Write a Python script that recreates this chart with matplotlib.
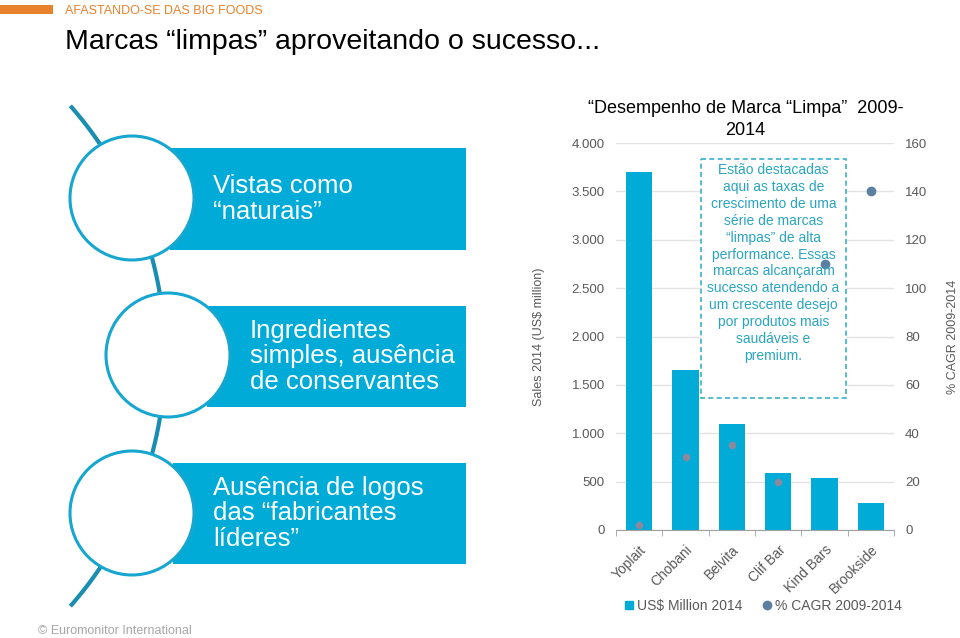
import numpy as np
import matplotlib.pyplot as plt
from matplotlib import patches
from matplotlib.lines import Line2D

plt.rcParams['font.family'] = ['Liberation Sans', 'DejaVu Sans']

# dados do grafico
marcas = ["Yoplait", "Chobani", "Belvita", "Clif Bar", "Kind Bars", "Brookside"]
vendas_2014 = [3700, 1650, 1100, 590, 540, 280]
cagr = [2, 30, 35, 20, 110, 140]

# textos do diagrama
itens = ["Vistas como\n“naturais”",
         "Ingredientes\nsimples, ausência\nde conservantes",
         "Ausência de logos\ndas “fabricantes\nlíderes”"]

ciano = "#00abd8"
azul_ponto = "#5b7fa0"
cinza = "#595959"

fig = plt.figure(figsize=(9.6, 6.38), dpi=100)

# camada de desenho em pixels (diagrama esquerdo e cabecalho)
bg = fig.add_axes([0, 0, 1, 1])
bg.set_xlim(0, 960)
bg.set_ylim(638, 0)
bg.axis("off")

bg.add_patch(patches.Rectangle((0, 5), 53, 9, color="#e8812c", lw=0))
bg.text(65, 11, "AFASTANDO-SE DAS BIG FOODS", color="#e8812c", fontsize=9.0, va="center")
bg.text(65, 42, "Marcas “limpas” aproveitando o sucesso...", color="black", fontsize=20.5, va="center")
bg.text(38, 631, "© Euromonitor International", color="#a6a6a6", fontsize=9, va="center")

# arco de ligacao
ang = np.linspace(np.arctan2(108 - 356, 71 + 213), np.arctan2(604 - 356, 71 + 213), 200)
bg.plot(-213 + 378 * np.cos(ang), 356 + 378 * np.sin(ang), color="#1b8db0", lw=3, zorder=1)

caixas = [(170, 148, 102), (207, 306, 101), (173, 463, 101)]
circulos = [(132, 198), (168, 355), (132, 513)]
texto_x = [213, 250, 213]
for (x0, y0, h), (cx, cy), tx, txt in zip(caixas, circulos, texto_x, itens):
    bg.add_patch(patches.Rectangle((x0, y0), 466 - x0, h, color=ciano, lw=0, zorder=2))
    bg.add_patch(patches.Circle((cx, cy), 62, facecolor="white", edgecolor="#17a6cf", lw=2.2, zorder=3))
    bg.text(tx, y0 + h / 2, txt, color="white", fontsize=18.5, va="center", ha="left",
            linespacing=1.08, zorder=4)

# grafico de barras
ax = fig.add_axes([616 / 960, 1 - 530 / 638, 278 / 960, 387 / 638])
x = np.arange(len(marcas))
ax.bar(x, vendas_2014, width=0.57, color=ciano, zorder=2)
ax.set_xlim(-0.5, len(marcas) - 0.5)
ax.set_ylim(0, 4000)
ax.set_yticks(np.arange(0, 4001, 500))
ax.set_yticklabels([f"{v:,}".replace(",", ".") for v in range(0, 4001, 500)])
ax.yaxis.grid(True, color="#e3e3e3", lw=1, zorder=0)
ax.set_axisbelow(True)
for s in ["top", "left", "right"]:
    ax.spines[s].set_visible(False)
ax.spines["bottom"].set_color("#a0a0a0")
ax.tick_params(axis="y", length=0, labelsize=9.5, labelcolor=cinza, pad=8)
ax.set_xticks(np.arange(len(marcas) + 1) - 0.5, minor=True)
ax.tick_params(axis="x", which="minor", length=4, color="#a0a0a0")
ax.set_xticks(x)
ax.set_xticklabels(marcas, rotation=45, ha="right", rotation_mode="anchor", fontsize=10, color=cinza)
ax.tick_params(axis="x", which="major", length=0, pad=9)
ax.set_ylabel("Sales 2014 (US$ million)", fontsize=9, color=cinza)
ax.yaxis.set_label_coords(-0.255, 0.5)

ax2 = ax.twinx()
ax2.set_ylim(0, 160)
ax2.set_yticks(np.arange(0, 161, 20))
for s in ax2.spines.values():
    s.set_visible(False)
ax2.tick_params(axis="y", length=0, labelsize=9.5, labelcolor=cinza, pad=8)
ax2.set_ylabel("% CAGR 2009-2014", fontsize=9, color=cinza, labelpad=14)

for xi, c, v in zip(x, cagr, vendas_2014):
    sobre_barra = c / 160 * 4000 < v
    ax2.plot(xi, c, "o", ms=5.5 if sobre_barra else 7,
             color="#8a8a9c" if sobre_barra else azul_ponto, mec="none", zorder=3)

ax.set_title("“Desempenho de Marca “Limpa”  2009-\n2014", fontsize=13, pad=6, linespacing=1.35,
             x=0.466)

# caixa de texto tracejada (camada superior)
top = fig.add_axes([0, 0, 1, 1])
top.set_xlim(0, 960)
top.set_ylim(638, 0)
top.axis("off")
top.add_patch(patches.Rectangle((701, 159), 145, 239, facecolor="white", edgecolor="#3ab0c8",
                                lw=1.2, ls=(0, (3, 2))))
top.text(773.5, 263, "Estão destacadas\naqui as taxas de\ncrescimento de uma\nsérie de marcas\n"
         "“limpas” de alta\nperformance. Essas\nmarcas alcançaram\nsucesso atendendo a\n"
         "um crescente desejo\npor produtos mais\nsaudáveis e\npremium.",
         color="#2aa5c0", fontsize=10, ha="center", va="center", linespacing=1.26)
top.plot(x[4] * 278 / 6 + 616 + 278 / 12, 530 - cagr[4] * 387 / 160, "o", ms=7, color=azul_ponto,
         mec="none")

# legenda
handles = [Line2D([], [], ls="none", marker="s", ms=6, color=ciano),
           Line2D([], [], ls="none", marker="o", ms=6, color=azul_ponto)]
fig.legend(handles, ["US$ Million 2014", "% CAGR 2009-2014"], loc="center",
           bbox_to_anchor=(762 / 960, 1 - 606 / 638), ncol=2, frameon=False,
           fontsize=10, labelcolor=cinza, handletextpad=0.05, columnspacing=1.3,
           handlelength=1.0)

fig.savefig("out.png", dpi=100)
